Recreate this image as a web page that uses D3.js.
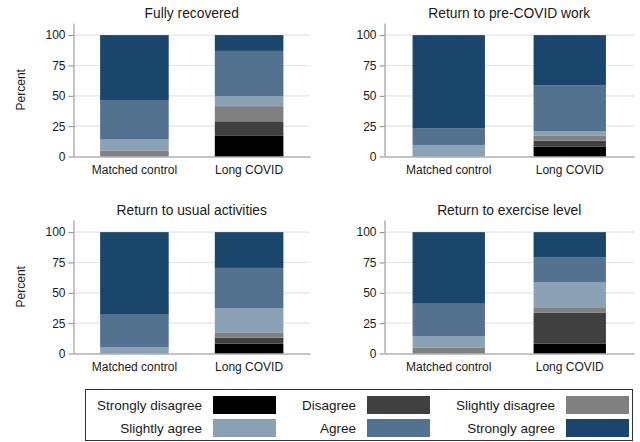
<!DOCTYPE html>
<html><head><meta charset="utf-8">
<script src="https://cdn.jsdelivr.net/npm/d3@7"></script>
<style>
body{margin:0;background:#fff;}
svg{display:block;font-family:"Liberation Sans",Arial,sans-serif;}
</style></head>
<body><svg id="c" width="640" height="442"></svg>
<script>
const categories = ["Strongly disagree","Disagree","Slightly disagree","Slightly agree","Agree","Strongly agree"];
const colors = ["#000000","#404040","#808080","#8ba1b6","#52728f","#1b466c"];
const groups = ["Matched control","Long COVID"];
const titles = ["Fully recovered","Return to pre-COVID work","Return to usual activities","Return to exercise level"];
const yTicks = [0,25,50,75,100];
// values per panel: [Matched control], [Long COVID], in category order
const fullyRecoveredMC = [0,0,5,9,32,54];
const fullyRecoveredLC = [17,12,12.5,8,37.5,13];
const preCovidWorkMC = [0,0,0,9.5,13.5,77];
const preCovidWorkLC = [8,5,4,4,37.5,41.5];
const usualActivitiesMC = [0,0,0,5,27,68];
const usualActivitiesLC = [8,5,4,20.5,33,29.5];
const exerciseLevelMC = [0,0,5,9,27,59];
const exerciseLevelLC = [8,25.5,4,21,20.5,21];

const panelValues = [
  [fullyRecoveredMC, fullyRecoveredLC],
  [preCovidWorkMC, preCovidWorkLC],
  [usualActivitiesMC, usualActivitiesLC],
  [exerciseLevelMC, exerciseLevelLC]
];

const svg = d3.select("#c");
const layout = [
  {x0:73.5, x1:310, y0:23, y1:156.5},
  {x0:384.5, x1:634, y0:23, y1:156.5},
  {x0:73.5, x1:310, y0:220, y1:353.5},
  {x0:384.5, x1:634, y0:220, y1:353.5}
];

panelValues.forEach((pv, i) => {
  const L = layout[i];
  const w = L.x1 - L.x0, h = L.y1 - L.y0;
  const g = svg.append("g").attr("transform", `translate(${L.x0},${L.y0})`);
  const y = d3.scaleLinear().domain([0,110]).range([h,0]);
  const x = d3.scaleBand().domain(groups).range([0,w]).paddingInner(0.402).paddingOuter(0.232);

  // gridlines
  g.append("g").selectAll("line").data(yTicks.filter(t=>t>0)).join("line")
    .attr("x1",0).attr("x2",w).attr("y1",d=>y(d)).attr("y2",d=>y(d))
    .attr("stroke","#e4e4e4").attr("stroke-width",1.2);

  // bars
  groups.forEach((grp, gi) => {
    const vals = pv[gi];
    let cum = 0;
    const segs = vals.map((v, ci) => { const s = {lo:cum, hi:cum+v, c:ci}; cum += v; return s; });
    g.append("g").selectAll("rect").data(segs.filter(s=>s.hi>s.lo)).join("rect")
      .attr("x", x(grp)).attr("width", x.bandwidth())
      .attr("y", d=>y(d.hi)).attr("height", d=>y(d.lo)-y(d.hi))
      .attr("fill", d=>colors[d.c]);
  });

  // y axis
  const ya = g.append("g").call(d3.axisLeft(y).tickValues(yTicks).tickSize(5).tickSizeOuter(0).tickPadding(3));
  ya.select(".domain").attr("stroke","#8a8a8a");
  ya.selectAll(".tick line").attr("stroke","#8a8a8a");
  ya.selectAll(".tick text").attr("font-size",12).attr("fill","#1a1a1a").attr("font-family","Liberation Sans, Arial, sans-serif");

  // x axis
  const xa = g.append("g").attr("transform",`translate(0,${h})`)
    .call(d3.axisBottom(x).tickSize(0).tickSizeOuter(0).tickPadding(7));
  xa.select(".domain").attr("stroke","#8a8a8a");
  xa.selectAll(".tick text").attr("font-size",12).attr("fill","#1a1a1a").attr("font-family","Liberation Sans, Arial, sans-serif").attr("dy","0.9em");

  // title
  g.append("text").attr("x", w/2).attr("y", -5).attr("text-anchor","middle")
    .attr("font-size",13.8).attr("fill","#1a1a1a").text(titles[i]);

  // y label
  if (i % 2 === 0) {
    g.append("text").attr("transform",`translate(${-49},${h/2}) rotate(-90)`)
      .attr("text-anchor","middle").attr("font-size",12).attr("fill","#1a1a1a").text("Percent");
  }
});

// legend
const lg = svg.append("g");
lg.append("rect").attr("x",85.5).attr("y",389.5).attr("width",547).attr("height",51)
  .attr("fill","none").attr("stroke","#333").attr("stroke-width",1);
const colSw = [213, 367, 566];
const rowY = [396, 419];
categories.forEach((c, i) => {
  const col = i % 3, row = Math.floor(i/3);
  lg.append("rect").attr("x", colSw[col]).attr("y", rowY[row]).attr("width",63).attr("height",18)
    .attr("fill", colors[i]);
  lg.append("text").attr("x", colSw[col]-11).attr("y", rowY[row]+13.5).attr("text-anchor","end")
    .attr("font-size",13.5).attr("fill","#1a1a1a").text(c);
});
</script></body></html>
